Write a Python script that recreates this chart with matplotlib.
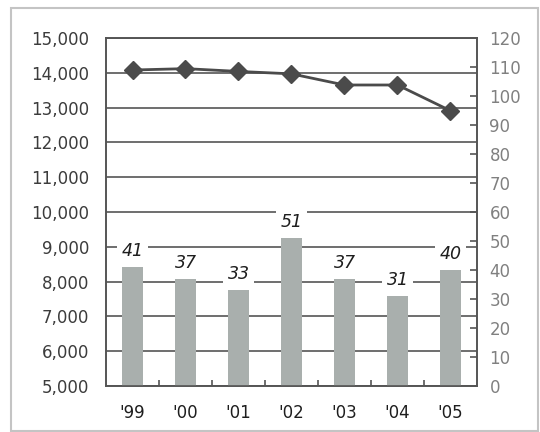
import matplotlib
matplotlib.use("Agg")
import matplotlib.pyplot as plt
from matplotlib.patches import Rectangle

# yearly data
years = ["'99", "'00", "'01", "'02", "'03", "'04", "'05"]
totals = [14080, 14120, 14040, 13970, 13650, 13650, 12910]   # left axis, line
counts = [41, 37, 33, 51, 37, 31, 40]                        # right axis, bars

GRID = "#555555"
BAR = "#a9afad"
LINE = "#4b4b4b"


def main():
    fig = plt.figure(figsize=(5.4, 4.32), dpi=100)
    fig.patches.append(Rectangle((11 / 540, 1 / 432), 527 / 540, 423 / 432,
                                 transform=fig.transFigure, fill=False,
                                 edgecolor="#c4c4c4", linewidth=1.5))

    ax = fig.add_axes([0.1963, 0.1065, 0.687, 0.8055])
    ax2 = ax.twinx()
    x = list(range(len(years)))

    # left axis: totals with horizontal grid
    ax.set_xlim(-0.5, len(years) - 0.5)
    ax.set_ylim(5000, 15000)
    ax.set_yticks(range(5000, 15001, 1000))
    ax.set_yticklabels([f"{v:,}" for v in range(5000, 15001, 1000)])
    ax.yaxis.grid(True, color=GRID, linewidth=1.2)
    ax.set_axisbelow(True)
    ax.tick_params(axis="y", length=0, pad=12, labelsize=12, labelcolor="#3c3c3c")
    ax.plot(x, totals, color=LINE, linewidth=2.0, marker="D", markersize=9,
            zorder=5, clip_on=False)

    ax.set_xticks(x)
    ax.set_xticklabels(years)
    ax.tick_params(axis="x", length=0, pad=13, labelsize=12, labelcolor="#1e1e1e")
    ax.set_xticks([i + 0.5 for i in x[:-1]], minor=True)
    ax.tick_params(axis="x", which="minor", direction="in", length=4,
                   width=1.2, color=GRID)

    # right axis: counts as bars
    ax2.set_ylim(0, 120)
    ax2.set_yticks(range(0, 121, 10))
    ax2.tick_params(axis="y", direction="in", length=5, width=1.2, color=GRID,
                    pad=9, labelsize=12, labelcolor="#808080")
    ax2.bar(x, counts, width=0.4, color=BAR, edgecolor="none", zorder=2)
    for xi, c in zip(x, counts):
        ax2.annotate(str(c), (xi, c), xytext=(0, 5), textcoords="offset points",
                     ha="center", va="bottom", fontsize=12.5, style="italic",
                     color="#1e1e1e", zorder=4,
                     bbox=dict(boxstyle="square,pad=0.25", facecolor="white",
                               edgecolor="none"))

    for a in (ax, ax2):
        for s in a.spines.values():
            s.set_color(GRID)
            s.set_linewidth(1.2)

    fig.savefig("out.png", dpi=100)
    plt.close(fig)


if __name__ == "__main__":
    main()
